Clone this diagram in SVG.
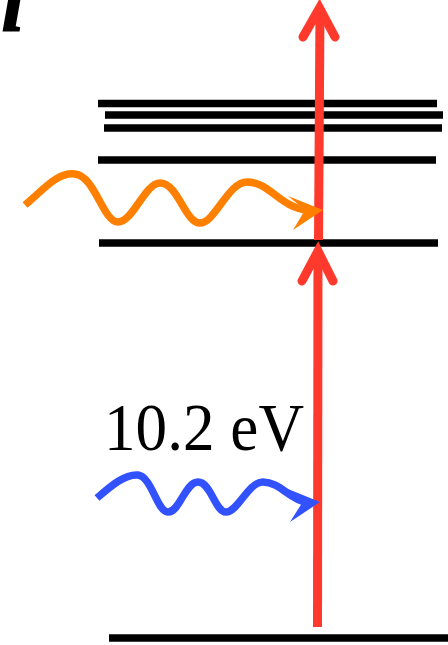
<svg xmlns="http://www.w3.org/2000/svg" width="448" height="645" viewBox="0 0 448 645">
<style>
.lvl{stroke:#000;stroke-width:7.5;fill:none}
.red{stroke:#FF3A2D;stroke-width:9;fill:none}
.head{stroke:#FF3A2D;stroke-width:9;fill:none;stroke-linecap:round;stroke-linejoin:miter}
.wave{fill:none;stroke-width:7.5;stroke-linecap:butt}
</style>
<rect width="448" height="645" fill="#fff"/>
<g id="panel-label"><text x="2" y="30" font-family="Liberation Serif, serif" font-weight="bold" font-style="italic" font-size="78" stroke="#000" stroke-width="2">l</text></g>
<g id="levels">
<line class="lvl" x1="98" y1="103.5" x2="437" y2="103.5"/>
<line class="lvl" x1="105" y1="115" x2="443" y2="115"/>
<line class="lvl" x1="104" y1="128" x2="442" y2="128"/>
<line class="lvl" x1="98" y1="160" x2="436" y2="160"/>
<line class="lvl" x1="99" y1="243" x2="438" y2="243"/>
<line class="lvl" x1="109" y1="638" x2="448" y2="638"/>
</g>
<g id="connectors">
<g id="red-lower">
<line class="red" x1="317.5" y1="627" x2="318" y2="252"/>
<polyline class="head" points="302,281 318,251 333,281"/>
</g>
<g id="red-upper">
<line class="red" x1="318.5" y1="240" x2="320" y2="8"/>
<polyline class="head" points="303,37 319.5,8 335,37"/>
</g>
<g id="orange-photon">
<path class="wave" stroke="#FF8000" d="M25,205 C45,188 58,172 75,174 C95,176 103,222 118,222 C133,222 145,183 160,183 C178,183 185,223 200,223 C215,223 228,182 247,182 C270,182 280,208 308,210"/>
<polygon fill="#FF8000" points="323,210 288,196 305,210 293,230"/>
</g>
<g id="blue-photon">
<path class="wave" stroke="#3352FF" d="M97,498 C112,485 125,474 138,475 C152,477 157,512 168,512 C180,512 185,482 198,482 C211,482 215,512 226,512 C238,512 248,482 263,482 C280,482 290,500 306,502"/>
<polygon fill="#3352FF" points="320,502 283,487 302,503 290,522"/>
</g>
</g>
<g id="energy-label"><text x="104" y="450" font-family="Liberation Serif, serif" font-size="67" textLength="200" lengthAdjust="spacingAndGlyphs">10.2 eV</text></g>
</svg>
